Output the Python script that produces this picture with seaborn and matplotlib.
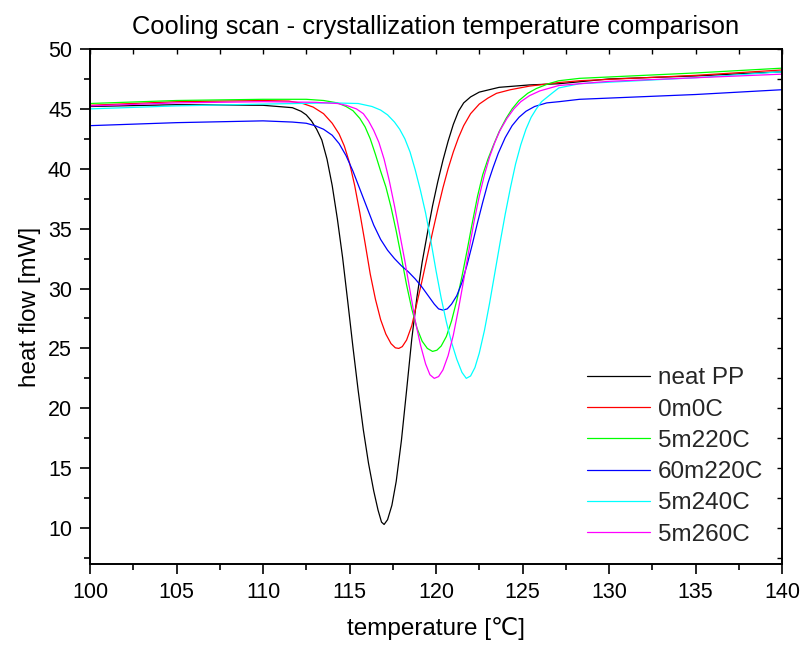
import matplotlib
matplotlib.use("Agg")
import matplotlib.pyplot as plt
import seaborn as sns
import pandas as pd
from matplotlib.ticker import MultipleLocator

# ---------------- data ----------------
neat_pp_x = [100, 105, 110, 111.7, 112.2, 112.5, 112.8, 113.1, 113.4, 113.7, 114.0, 114.3, 114.6,
             114.9, 115.2, 115.5, 115.8, 116.1, 116.4, 116.65, 116.85, 117.0, 117.2, 117.45, 117.7,
             118.0, 118.3, 118.6, 118.9, 119.2, 119.5, 119.8, 120.1, 120.4, 120.7, 121.0, 121.3,
             121.6, 122.0, 122.5, 123.65, 125.4, 127.1, 130, 135, 140]
neat_pp_y = [45.2, 45.35, 45.3, 45.1, 44.8, 44.5, 44.0, 43.3, 42.4, 40.8, 38.6, 35.8, 32.6,
             28.9, 25.1, 21.5, 18.2, 15.4, 13.1, 11.5, 10.5, 10.3, 10.7, 11.9, 13.9,
             17.3, 21.5, 25.8, 29.3, 32.2, 34.6, 36.9, 38.9, 40.7, 42.3, 43.7, 44.8,
             45.5, 46.0, 46.4, 46.8, 47.0, 47.1, 47.5, 47.75, 48.1]

m0c_x = [100, 105, 110, 111.5, 112.3, 112.9, 113.5, 114.0, 114.4, 114.7, 115.0, 115.3, 115.6, 115.9,
         116.2, 116.5, 116.8, 117.1, 117.4, 117.65, 117.85, 118.05, 118.3, 118.6, 118.9, 119.2,
         119.5, 119.8, 120.1, 120.4, 120.7, 121.0, 121.3, 121.6, 122.0, 122.5, 123.0, 123.5,
         124.3, 125.4, 127.1, 128.3, 135, 140]
m0c_y = [45.3, 45.6, 45.7, 45.65, 45.45, 45.15, 44.6, 43.8, 42.9, 41.9, 40.5, 38.6, 36.3, 33.8,
         31.2, 29.1, 27.4, 26.2, 25.4, 25.05, 25.0, 25.15, 25.7, 26.9, 28.8, 30.7,
         32.7, 34.7, 36.6, 38.4, 40.0, 41.4, 42.6, 43.6, 44.6, 45.4, 45.9, 46.3,
         46.6, 46.9, 47.2, 47.35, 47.8, 48.25]

m5_220_x = [100, 105, 110, 112.5, 113.5, 114.3, 114.8, 115.2, 115.6, 115.9, 116.2, 116.5, 116.8,
            117.1, 117.4, 117.7, 118.0, 118.3, 118.6, 118.9, 119.2, 119.5, 119.8, 120.05, 120.3,
            120.6, 120.9, 121.2, 121.5, 121.8, 122.1, 122.4, 122.7, 123.0, 123.3, 123.65, 124.05,
            124.4, 124.8, 125.3, 125.8, 126.5, 127.1, 128.3, 135, 140]
m5_220_y = [45.45, 45.7, 45.8, 45.8, 45.7, 45.5, 45.2, 44.85, 44.2, 43.5, 42.5, 41.2, 39.8,
            38.5, 36.8, 34.8, 32.6, 30.3, 28.3, 26.7, 25.6, 25.0, 24.75, 24.85, 25.2,
            26.0, 27.3, 29.0, 31.0, 33.2, 35.5, 37.7, 39.5, 40.8, 41.9, 43.1, 44.2,
            45.0, 45.7, 46.3, 46.7, 47.1, 47.35, 47.55, 48.0, 48.4]

m60_220_x = [100, 105, 110, 111.7, 112.5, 113.0, 113.5, 114.0, 114.4, 114.8, 115.2, 115.6, 116.0,
             116.4, 116.8, 117.2, 117.6, 118.0, 118.4, 118.8, 119.2, 119.6, 119.9, 120.15, 120.4,
             120.65, 120.9, 121.2, 121.5, 121.8, 122.1, 122.4, 122.7, 123.0, 123.3, 123.6, 124.0,
             124.4, 124.8, 125.2, 125.7, 126.4, 127.1, 128.3, 135, 140]
m60_220_y = [43.6, 43.85, 44.0, 43.9, 43.8, 43.6, 43.3, 42.8, 42.1, 41.1, 39.8, 38.3, 36.8,
             35.3, 34.1, 33.2, 32.5, 31.9, 31.4, 30.8, 30.1, 29.3, 28.7, 28.3, 28.2,
             28.3, 28.7, 29.4, 30.5, 32.0, 33.7, 35.5, 37.2, 38.8, 40.1, 41.3, 42.6,
             43.6, 44.3, 44.8, 45.2, 45.5, 45.6, 45.8, 46.2, 46.6]

m5_240_x = [100, 105, 110, 114, 115.5, 116.3, 116.8, 117.2, 117.6, 117.9, 118.2, 118.5, 118.8,
            119.1, 119.4, 119.7, 120.0, 120.3, 120.6, 120.9, 121.2, 121.5, 121.75, 122.0, 122.25,
            122.5, 122.8, 123.1, 123.4, 123.7, 124.0, 124.3, 124.6, 124.9, 125.2, 125.5, 125.8,
            126.1, 126.7, 127.1, 128.3, 135, 140]
m5_240_y = [45.0, 45.25, 45.4, 45.5, 45.45, 45.2, 44.9, 44.5, 43.9, 43.3, 42.5, 41.4, 39.9,
            38.2, 36.3, 34.0, 31.5, 29.2, 27.2, 25.5, 24.1, 23.0, 22.5, 22.7, 23.4,
            24.6, 26.5, 28.8, 31.3, 33.8, 36.2, 38.4, 40.4, 42.0, 43.3, 44.3, 45.0,
            45.6, 46.3, 46.75, 47.1, 47.6, 48.1]

m5_260_x = [100, 105, 110, 113.0, 114.3, 114.8, 115.4, 115.8, 116.1, 116.4, 116.7, 117.0, 117.3,
            117.6, 117.9, 118.2, 118.5, 118.8, 119.1, 119.4, 119.65, 119.9, 120.15, 120.4, 120.7,
            121.0, 121.3, 121.6, 121.9, 122.2, 122.5, 122.8, 123.1, 123.4, 123.7, 124.1, 124.5,
            124.9, 125.4, 126.0, 127.1, 128.3, 130, 135, 140]
m5_260_y = [45.25, 45.5, 45.6, 45.55, 45.45, 45.3, 45.0, 44.6, 44.0, 43.2, 42.2, 40.8, 39.0,
            36.9, 34.6, 32.3, 29.8, 27.3, 25.3, 23.7, 22.8, 22.5, 22.65, 23.2, 24.4,
            26.1, 28.3, 30.7, 33.2, 35.6, 37.7, 39.5, 41.0, 42.2, 43.2, 44.2, 45.0,
            45.6, 46.1, 46.5, 46.95, 47.1, 47.3, 47.6, 47.9]

labels = ["neat PP", "0m0C", "5m220C", "60m220C", "5m240C", "5m260C"]
xs = [neat_pp_x, m0c_x, m5_220_x, m60_220_x, m5_240_x, m5_260_x]
ys = [neat_pp_y, m0c_y, m5_220_y, m60_220_y, m5_240_y, m5_260_y]
colors = ["#000000", "#FF0000", "#00FF00", "#0000FF", "#00FFFF", "#FF00FF"]

# ---------------- plotting ----------------
sns.set_theme(style="white")
plt.rcParams["font.family"] = ["Liberation Sans", "DejaVu Sans"]

fig = plt.figure(figsize=(8.01, 6.48), dpi=100)
ax = fig.add_axes([90 / 801, 1 - 564 / 648, 692 / 801, 515 / 648])

frames = []
for lab, x, y in zip(labels, xs, ys):
    frames.append(pd.DataFrame({"temperature": x, "heat": y, "series": lab}))
df = pd.concat(frames, ignore_index=True)

sns.lineplot(data=df, x="temperature", y="heat", hue="series", hue_order=labels,
             palette=colors, linewidth=0.9, ax=ax, sort=False, estimator=None, legend=False)

ax.set_xlim(100, 140)
ax.set_ylim(7, 50)
ax.xaxis.set_major_locator(MultipleLocator(5))
ax.xaxis.set_minor_locator(MultipleLocator(2.5))
ax.yaxis.set_major_locator(MultipleLocator(5))
ax.yaxis.set_minor_locator(MultipleLocator(2.5))

tick_fs = 15.5
ax.tick_params(which="major", direction="out", length=7, width=1.2, labelsize=tick_fs,
               color="black", labelcolor="black", pad=6, bottom=True, left=True)
ax.tick_params(which="minor", direction="out", length=4, width=1.2, color="black",
               bottom=True, left=True)

for side in ["left", "bottom", "top", "right"]:
    ax.spines[side].set_visible(True)
    ax.spines[side].set_color("black")
    ax.spines[side].set_linewidth(1.4)

# inward ticks on top and right
secx = ax.secondary_xaxis("top")
secx.xaxis.set_major_locator(MultipleLocator(2.5))
secx.tick_params(direction="in", length=3.5, width=1.0, labeltop=False, color="black")
secx.spines["top"].set_visible(False)
secy = ax.secondary_yaxis("right")
secy.yaxis.set_major_locator(MultipleLocator(2.5))
secy.tick_params(direction="in", length=3.5, width=1.0, labelright=False, color="black")
secy.spines["right"].set_visible(False)

ax.set_xlabel("temperature [\u2103]", fontsize=17.5, labelpad=10, color="black")
ax.set_ylabel("heat flow [mW]", fontsize=17.5, labelpad=5, color="black")
ax.set_title("Cooling scan - crystallization temperature comparison",
             fontsize=18.4, pad=11, color="black")

handles = [plt.Line2D([], [], color=c, linewidth=0.9) for c in colors]
ax.legend(handles, labels, loc="upper left", bbox_to_anchor=(0.718, 0.382),
          frameon=False, fontsize=17.5, handlelength=2.6, handletextpad=0.33,
          labelspacing=0.38, borderpad=0, borderaxespad=0)

fig.savefig("out.png", dpi=100, facecolor="white")
